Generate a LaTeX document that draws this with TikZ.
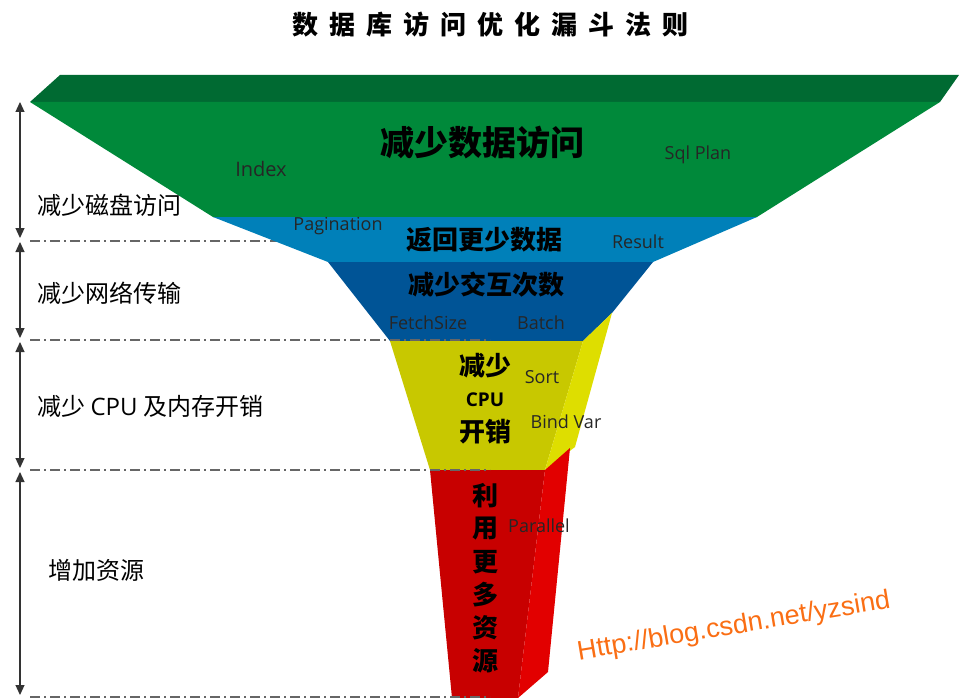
\documentclass[tikz,border=0pt]{standalone}
\usepackage{fontspec}
\setmainfont{Open Sans}
\newfontfamily\cjk{Noto Sans CJK SC}
\newfontfamily\urlfont{Liberation Sans}
\usetikzlibrary{arrows.meta}
\newcommand\fsz[1]{\fontsize{#1}{#1}\selectfont}
\definecolor{rimgreen}{RGB}{0,106,50}
\definecolor{funnelgreen}{RGB}{0,137,58}
\definecolor{lightblue}{RGB}{0,128,185}
\definecolor{deepblue}{RGB}{0,84,150}
\definecolor{yellowface}{RGB}{200,200,0}
\definecolor{yellowside}{RGB}{222,222,0}
\definecolor{redface}{RGB}{200,0,0}
\definecolor{redside}{RGB}{226,0,0}
\definecolor{urlorange}{RGB}{250,110,20}

\begin{document}
\begin{tikzpicture}[x=1pt, y=-1pt,
  heading/.style={font=\cjk\bfseries\fsz{26}, inner sep=0pt},
  band/.style={font=\cjk\bfseries\fsz{26}, inner sep=0pt},
  tag/.style={font=\fsz{18}, text=black!85, inner sep=0pt, anchor=base},
  side/.style={font=\cjk\fsz{24}, anchor=west, inner sep=0pt},
  level/.style={black!60, line width=1.4pt, dash pattern=on 10pt off 4pt on 2pt off 4pt},
  span/.style={<->, black!80, line width=1.2pt, shorten <=2pt, shorten >=2pt},
  >={Triangle[length=10pt, width=9pt]}]
\useasboundingbox (0,0) rectangle (959,698);

\foreach \ch [count=\i] in {数,据,库,访,问,优,化,漏,斗,法,则}
  \node[heading] (t\i) at ({268+37*\i}, 25) {\ch};

\foreach \y [count=\i] in {241,340,470,697} {
  \coordinate (s\i) at (30,\y);
  \coordinate (e\i) at (490,\y);
}
\draw[level] (s1) -- (e1);

\fill[rimgreen] (60,75) -- (959,75) -- (940,102) -- (30,102) -- cycle;
\fill[funnelgreen] (30,102) -- (940,102) -- (757,217) -- (213,217) -- cycle;
\fill[lightblue] (213,217) -- (757,217) -- (653,262) -- (328,262) -- cycle;
\fill[deepblue] (328,262) -- (653,262) -- (612,313) -- (583,341) -- (390,341) -- cycle;
\fill[yellowface] (390,341) -- (583,341) -- (545,470) -- (430,470) -- cycle;
\fill[yellowside] (612,313) -- (575,447) -- (545,470) -- (583,341) -- cycle;
\fill[redface] (430,470) -- (545,470) -- (518,698) -- (452,698) -- cycle;
\fill[redside] (545,470) -- (570,448) -- (548,672) -- (518,698) -- cycle;

\draw[level] (s2) -- (e2);
\draw[level] (s3) -- (e3);
\draw[level] (s4) -- (e4);

\coordinate (l0) at (20,100);
\coordinate (l1) at (20,240);
\coordinate (l2) at (20,340);
\coordinate (l3) at (20,470);
\coordinate (l4) at (20,697);
\draw[span] (l0) -- (l1);
\draw[span] (l1) -- (l2);
\draw[span] (l2) -- (l3);
\draw[span] (l3) -- (l4);

\node[side] (disk) at (37,205) {减少磁盘访问};
\node[side] (net) at (37,293) {减少网络传输};
\node[side] (cpu) at (37,406) {减少 {\rmfamily CPU} 及内存开销};
\node[side] (res) at (48,570) {增加资源};

\node[band, font=\cjk\bfseries\fsz{34}] (access) at (482,143) {减少数据访问};
\node[band] (fewer) at (484,240) {返回更少数据};
\node[band] (trips) at (486,285) {减少交互次数};
\node[band] (cpu1) at (485,366) {减少};
\node[band, font=\bfseries\fsz{19}] (cpu2) at (485,400) {CPU};
\node[band] (cpu3) at (485,432) {开销};
\foreach \ch [count=\i] in {利,用,更,多,资,源}
  \node[band] (more\i) at (485, {463+33*\i}) {\ch};

\node[tag, font=\fsz{20}] (index) at (261,177) {Index};
\node[tag] (plan) at (698,160) {Sql Plan};
\node[tag] (page) at (338,230) {Pagination};
\node[tag] (result) at (638,248) {Result};
\node[tag] (fetch) at (428,329) {FetchSize};
\node[tag] (batch) at (541,329) {Batch};
\node[tag] (sort) at (542,383) {Sort};
\node[tag] (bind) at (566,428) {Bind Var};
\node[tag] (par) at (539,532) {Parallel};

\node[anchor=base, rotate=9.5, inner sep=0pt, text=urlorange,
  font=\urlfont\fsz{27}] (url) at (735,634) {Http://blog.csdn.net/yzsind};
\end{tikzpicture}
\end{document}
